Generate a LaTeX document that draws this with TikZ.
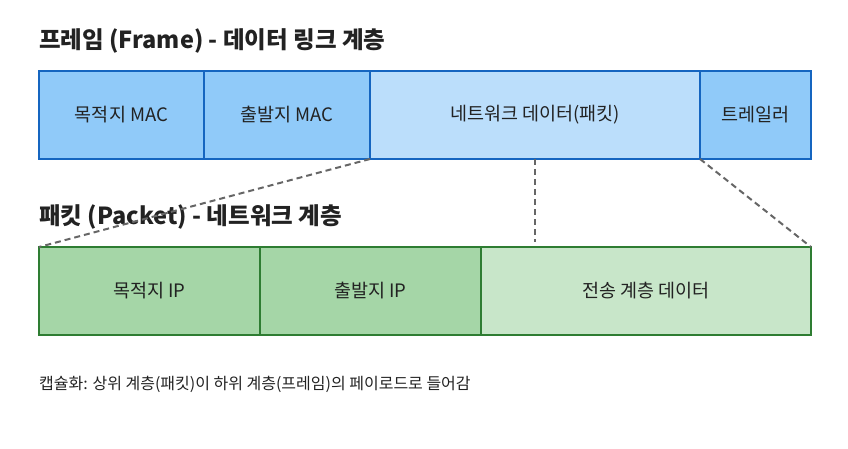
\documentclass[tikz,border=0pt]{standalone}
\usepackage{fontspec}
\setmainfont{Noto Sans CJK KR}
\usetikzlibrary{positioning}
\definecolor{FrameLine}{HTML}{1565C0}
\definecolor{FrameFill}{HTML}{90CAF9}
\definecolor{FrameLight}{HTML}{BBDEFB}
\definecolor{PacketLine}{HTML}{2E7D32}
\definecolor{PacketFill}{HTML}{A5D6A7}
\definecolor{PacketLight}{HTML}{C8E6C9}
\definecolor{TextDark}{HTML}{222222}

\begin{document}
\begin{tikzpicture}[
    x=1pt, y=-1pt,
    node distance=0pt,
    title/.style={anchor=west, inner sep=0pt, font=\fontsize{23.5}{28}\selectfont\bfseries, text=TextDark},
    fcell/.style={draw=FrameLine, fill=FrameFill, line width=2pt, inner sep=0pt, outer sep=0pt,
      minimum height=88pt, font=\fontsize{18.5}{22}\selectfont, text=TextDark},
    pcell/.style={draw=PacketLine, fill=PacketFill, line width=2pt, inner sep=0pt, outer sep=0pt,
      minimum height=88pt, font=\fontsize{18.5}{22}\selectfont, text=TextDark},
    link/.style={dashed, dash pattern=on 6pt off 4pt, line width=2pt, color=black!60}
  ]
    \useasboundingbox (0,0) rectangle (848,449);

    % frame row
    \node[title] (ftitle) at (39,41) {프레임 (Frame) - 데이터 링크 계층};
    \node[fcell, minimum width=165pt, anchor=north west] (dmac) at (39,71) {목적지 MAC};
    \node[fcell, minimum width=166pt, right=of dmac] (smac) {출발지 MAC};
    \node[fcell, fill=FrameLight, minimum width=330pt, right=of smac] (payload) {네트워크 데이터(패킷)};
    \node[fcell, minimum width=111pt, right=of payload] (trailer) {트레일러};

    % packet row
    \node[title] (ptitle) at (39,217) {패킷 (Packet) - 네트워크 계층};
    \node[pcell, minimum width=221pt, anchor=north west] (dip) at (39,247) {목적지 IP};
    \node[pcell, minimum width=221pt, right=of dip] (sip) {출발지 IP};
    \node[pcell, fill=PacketLight, minimum width=330pt, right=of sip] (tdata) {전송 계층 데이터};

    \coordinate (mid) at ([yshift=5pt]payload.south |- tdata.north);

    \draw[link] (payload.south west) -- (dip.north west);
    \draw[link] (payload.south) -- (mid);
    \draw[link] (payload.south east) -- (tdata.north east);

    \node[anchor=west, inner sep=0pt, font=\fontsize{16}{19}\selectfont, text=TextDark] (note) at (39,384)
      {캡슐화: 상위 계층(패킷)이 하위 계층(프레임)의 페이로드로 들어감};
\end{tikzpicture}
\end{document}
